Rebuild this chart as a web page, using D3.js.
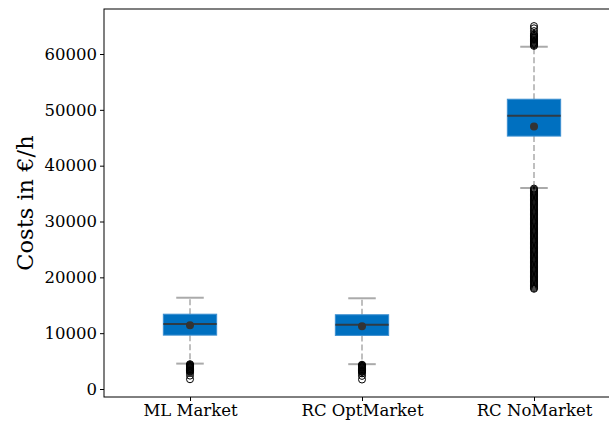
<!DOCTYPE html>
<html>
<head>
<meta charset="utf-8">
<script src="https://cdn.jsdelivr.net/npm/d3@7"></script>
<style>
  body { margin: 0; background: #fff; }
  text { font-family: "DejaVu Serif", serif; }
</style>
</head>
<body>
<div id="chart"></div>
<script>
// box statistics
const categories = ["ML Market", "RC OptMarket", "RC NoMarket"];
const q1 = [9650, 9600, 45300];
const median = [11650, 11500, 48950];
const q3 = [13400, 13300, 51900];
const whiskerLow = [4550, 4450, 36000];
const whiskerHigh = [16350, 16250, 61300];
const means = [11400, 11250, 47000];

// fliers (the dense ones overlap into a solid black column)
const fliersML = [4450, 4350, 4250, 4150, 4050, 3950, 3850, 3750, 3650, 3550,
  3450, 3350, 3250, 3150, 2900, 2400, 1750];
const fliersOpt = [4350, 4250, 4150, 4050, 3950, 3850, 3750, 3650, 3550, 3450,
  3350, 3250, 3150, 3050, 2800, 2350, 1700];
const fliersNoHigh = [61450, 61600, 61750, 61900, 62050, 62200, 62350, 62500,
  62650, 62800, 62950, 63100, 63250, 63400, 63600, 64100, 64600, 65000];
const fliersNoLow = [35900, 35700, 35500, 35300, 35100, 34900, 34700, 34500,
  34300, 34100, 33900, 33700, 33500, 33300, 33100, 32900, 32700, 32500, 32300,
  32100, 31900, 31700, 31500, 31300, 31100, 30900, 30700, 30500, 30300, 30100,
  29900, 29700, 29500, 29300, 29100, 28900, 28700, 28500, 28300, 28100, 27900,
  27700, 27500, 27300, 27100, 26900, 26700, 26500, 26300, 26100, 25900, 25700,
  25500, 25300, 25100, 24900, 24700, 24500, 24300, 24100, 23900, 23700, 23500,
  23300, 23100, 22900, 22700, 22500, 22300, 22100, 21900, 21700, 21500, 21300,
  21100, 20900, 20700, 20500, 20300, 20100, 19900, 19700, 19500, 19300, 19100,
  18900, 18700, 18500, 18300, 18100, 17950];
const outliers = [fliersML, fliersOpt, fliersNoHigh.concat(fliersNoLow)];

const yTicks = [0, 10000, 20000, 30000, 40000, 50000, 60000];

const width = 609, height = 423,
      margin = ({ top: 9, right: -11, bottom: 26, left: 104 });

const svg = d3.select("#chart").append("svg")
    .attr("width", width).attr("height", height);

const x = d3.scaleLinear()
    .domain([0.5, 3.5])
    .range([margin.left, width - margin.right]);

const y = d3.scaleLinear()
    .domain([-1430, 68060])
    .range([height - margin.bottom, margin.top]);

const boxW = 0.31;

// axes
const yAxis = svg.append("g")
    .attr("transform", `translate(${margin.left},0)`)
    .call(d3.axisLeft(y).tickValues(yTicks).tickFormat(d3.format("d")).tickSize(4).tickPadding(3));
yAxis.select(".domain").remove();
yAxis.selectAll("text").style("font-size", "16.5px").attr("fill", "#000");
yAxis.selectAll("line").attr("stroke", "#000");

const xAxis = svg.append("g")
    .attr("transform", `translate(0,${height - margin.bottom})`)
    .call(d3.axisBottom(x).tickValues([1, 2, 3]).tickFormat(d => categories[d - 1]).tickSize(4).tickPadding(3));
xAxis.select(".domain").remove();
xAxis.selectAll("text").style("font-size", "16.5px").attr("fill", "#000");
xAxis.selectAll("line").attr("stroke", "#000");

// spines
svg.append("rect")
    .attr("x", x(0.5)).attr("y", y.range()[1])
    .attr("width", x(3.5) - x(0.5))
    .attr("height", y.range()[0] - y.range()[1])
    .attr("fill", "none").attr("stroke", "#000").attr("stroke-width", 1);

svg.append("text")
    .attr("transform", `translate(33,${(y.range()[0] + y.range()[1]) / 2}) rotate(-90)`)
    .attr("text-anchor", "middle")
    .style("font-size", "22.5px")
    .text("Costs in €/h");

const data = categories.map((c, i) => ({
  pos: i + 1, q1: q1[i], med: median[i], q3: q3[i],
  lo: whiskerLow[i], hi: whiskerHigh[i], mean: means[i], out: outliers[i]
}));

const box = svg.selectAll(".box")
    .data(data)
    .join("g")
    .attr("class", "box");

// whiskers (dashed)
box.append("line")
    .attr("x1", d => x(d.pos)).attr("x2", d => x(d.pos))
    .attr("y1", d => y(d.q3)).attr("y2", d => y(d.hi))
    .attr("stroke", "#aaa").attr("stroke-width", 1.5).attr("stroke-dasharray", "6,3");
box.append("line")
    .attr("x1", d => x(d.pos)).attr("x2", d => x(d.pos))
    .attr("y1", d => y(d.q1)).attr("y2", d => y(d.lo))
    .attr("stroke", "#aaa").attr("stroke-width", 1.5).attr("stroke-dasharray", "6,3");

// caps
for (const k of ["hi", "lo"]) {
  box.append("line")
      .attr("x1", d => x(d.pos - 0.08)).attr("x2", d => x(d.pos + 0.08))
      .attr("y1", d => y(d[k])).attr("y2", d => y(d[k]))
      .attr("stroke", "#aaa").attr("stroke-width", 2);
}

// outliers
box.selectAll(".flier")
    .data(d => d.out.map(v => ({ pos: d.pos, v })))
    .join("circle")
    .attr("class", "flier")
    .attr("cx", d => x(d.pos)).attr("cy", d => y(d.v))
    .attr("r", 3.5)
    .attr("fill", "none").attr("stroke", "#000").attr("stroke-width", 1);

// boxes
box.append("rect")
    .attr("x", d => x(d.pos - boxW / 2))
    .attr("width", x(1 + boxW) - x(1))
    .attr("y", d => y(d.q3))
    .attr("height", d => y(d.q1) - y(d.q3))
    .attr("fill", "#0070c0").attr("stroke", "#3c8fd0").attr("stroke-width", 1);

box.append("line")
    .attr("x1", d => x(d.pos - boxW / 2)).attr("x2", d => x(d.pos + boxW / 2))
    .attr("y1", d => y(d.med)).attr("y2", d => y(d.med))
    .attr("stroke", "#2f3b45").attr("stroke-width", 2);

box.append("circle")
    .attr("cx", d => x(d.pos)).attr("cy", d => y(d.mean))
    .attr("r", 4)
    .attr("fill", "#333");
</script>
</body>
</html>
